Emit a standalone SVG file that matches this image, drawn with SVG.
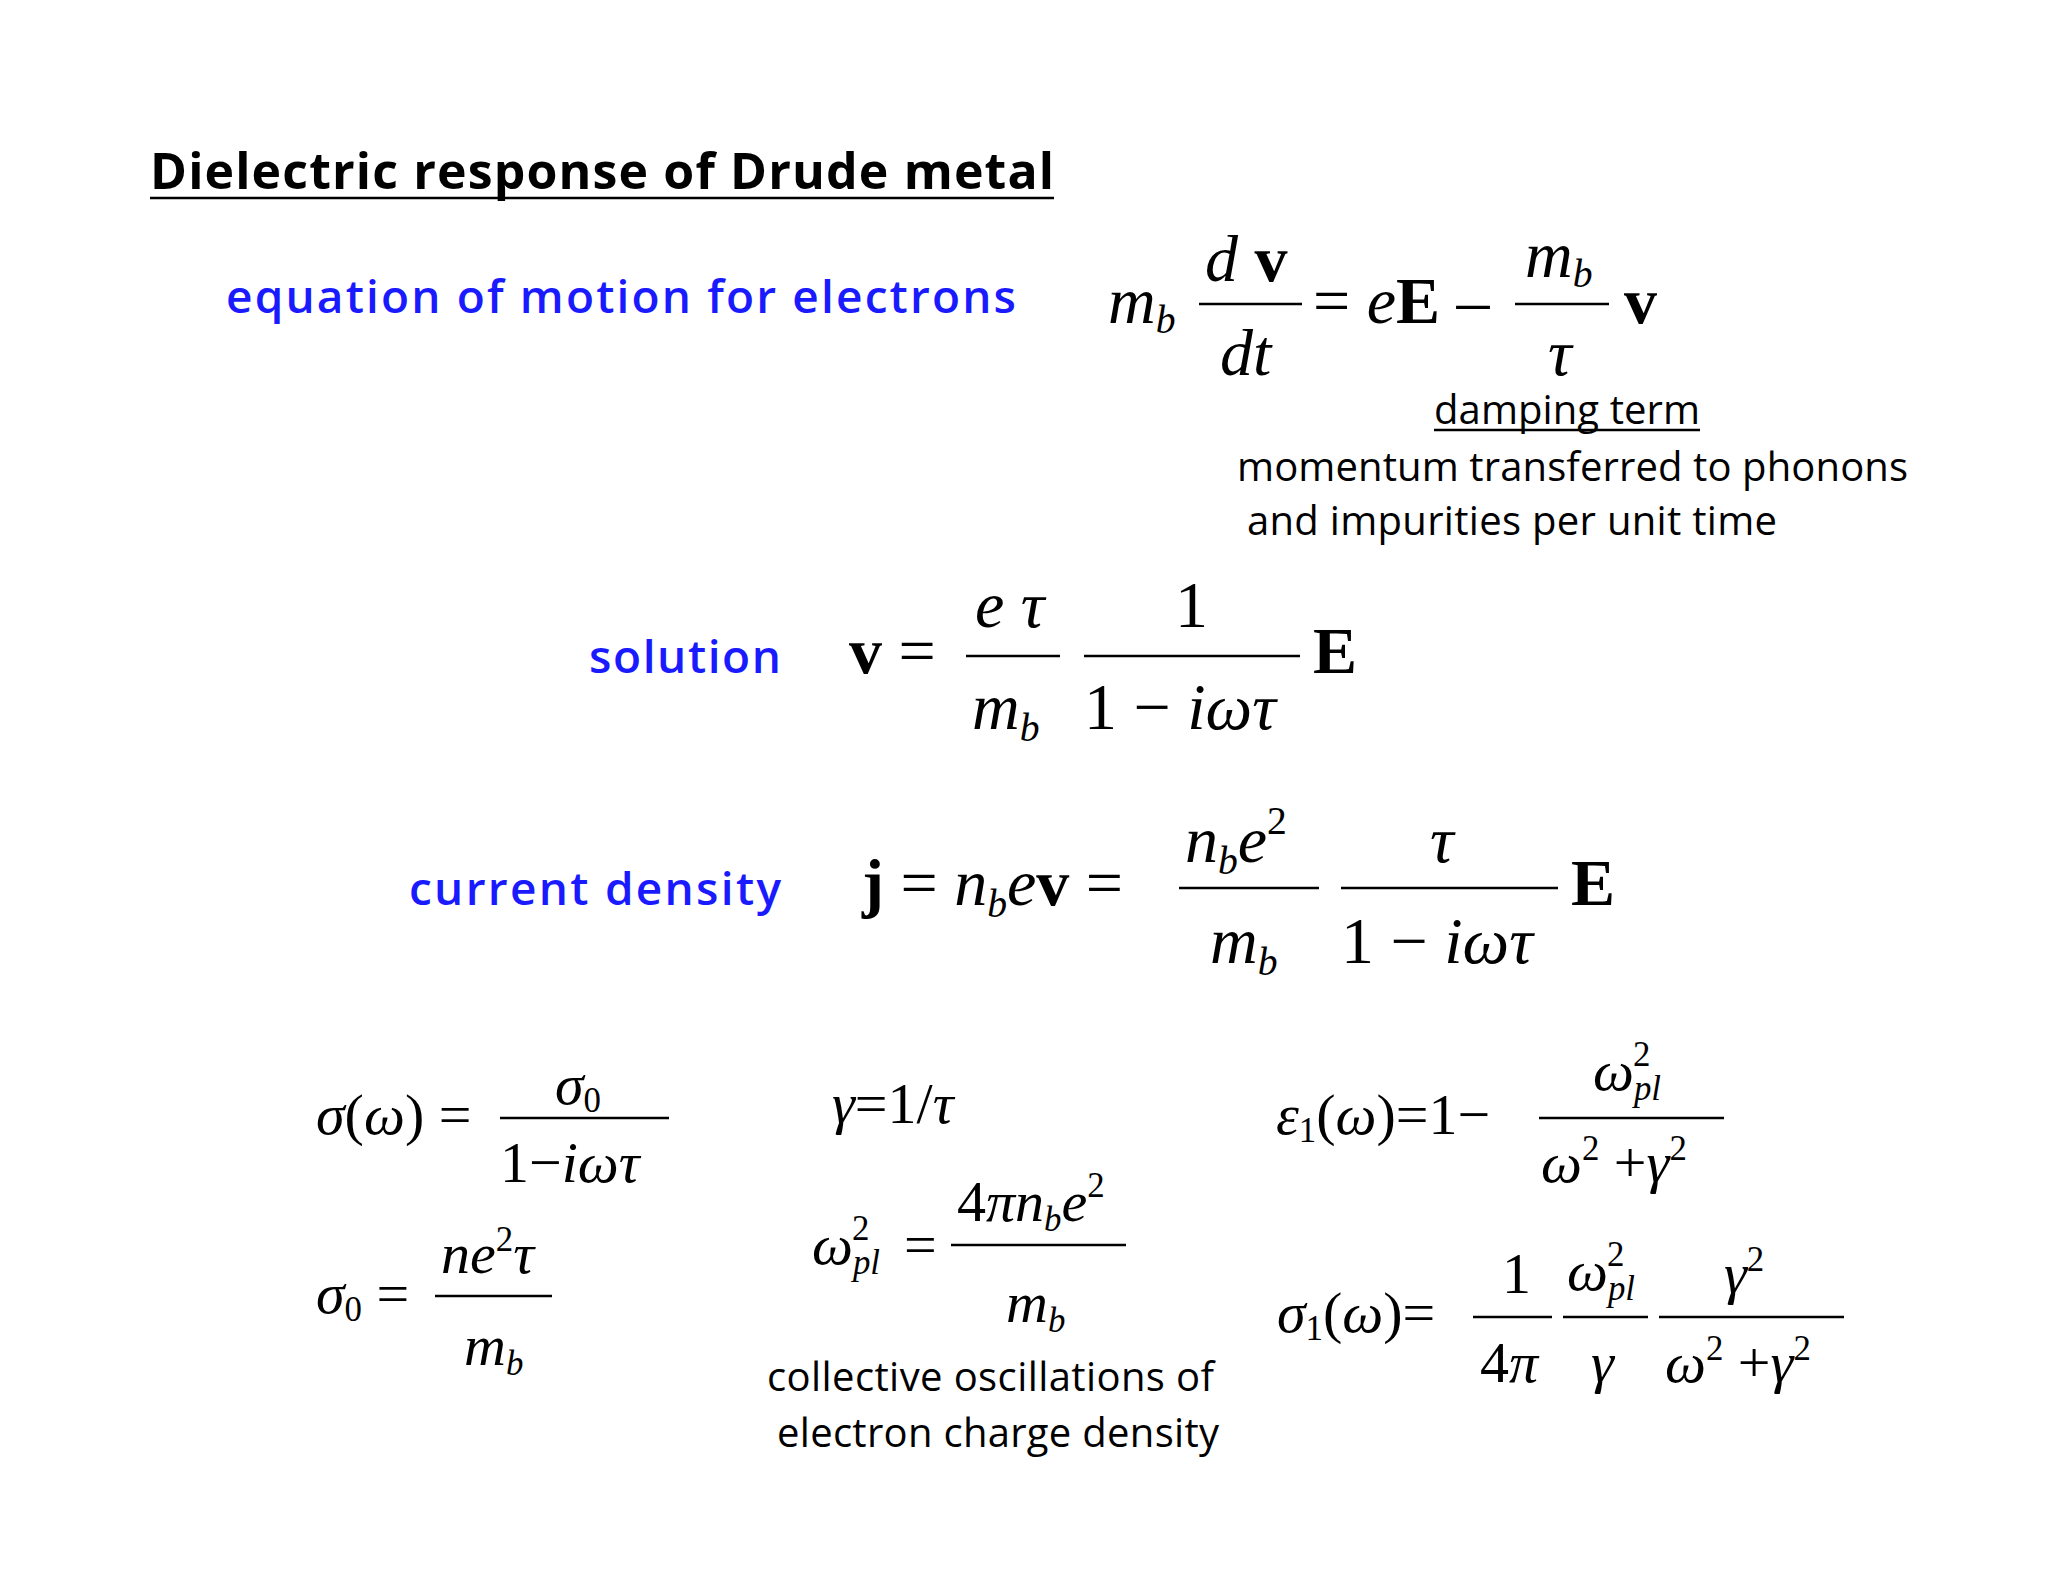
<svg xmlns="http://www.w3.org/2000/svg" width="2048" height="1582" viewBox="0 0 2048 1582">
<style>
.t{font-family:"Open Sans","Liberation Sans",sans-serif;fill:#000}
.b{font-family:"Open Sans","Liberation Sans",sans-serif;fill:#1a1aff;font-size:46px;font-weight:600}
.m{font-family:"Liberation Serif",serif;font-style:italic;font-size:66px;fill:#000}
.s{font-family:"Liberation Serif",serif;font-style:italic;font-size:58px;fill:#000}
.r{font-style:normal}
.bd{font-style:normal;font-weight:bold}
.sub{font-size:0.6em}
line{stroke:#000;stroke-width:2.5}
</style>
<rect width="2048" height="1582" fill="#fff"/>
<g id="title"><text class="t" x="150" y="189" font-size="50" font-weight="bold" textLength="904">Dielectric  response of Drude metal</text><line x1="150" y1="198" x2="1054" y2="198" stroke-width="3"/></g>
<g id="eq1">
<text class="b" x="226" y="313" textLength="790">equation of motion for electrons</text>
<text class="m" x="1108" y="323">m<tspan class="sub" dy="10">b</tspan></text>
<text class="m" x="1205" y="281">d <tspan class="bd">v</tspan></text>
<line x1="1199" y1="304" x2="1302" y2="304"/>
<text class="m" x="1220" y="375">dt</text>
<text class="m" x="1313" y="323"><tspan class="r">=</tspan> e<tspan class="bd">E</tspan> <tspan class="r">–</tspan></text>
<text class="m" x="1525" y="277">m<tspan class="sub" dy="10">b</tspan></text>
<line x1="1515" y1="304" x2="1609" y2="304"/>
<text class="m" x="1548" y="375">τ</text>
<text class="m" x="1624" y="323"><tspan class="bd">v</tspan></text>
<text class="t" x="1434" y="424" font-size="40" textLength="266">damping term</text><line x1="1434" y1="430" x2="1700" y2="430" stroke-width="2"/>
<text class="t" x="1237" y="481" font-size="40" textLength="671">momentum transferred to phonons</text>
<text class="t" x="1247" y="535" font-size="40" textLength="530">and impurities per unit time</text>
</g>
<g id="eq2">
<text class="b" x="589" y="673" textLength="192">solution</text>
<text class="m" x="849" y="673"><tspan class="bd">v</tspan> <tspan class="r">=</tspan></text>
<text class="m" x="975" y="627">e τ</text>
<line x1="966" y1="656" x2="1060" y2="656"/>
<text class="m" x="972" y="729">m<tspan class="sub" dy="12">b</tspan></text>
<text class="m r" x="1175" y="627">1</text>
<line x1="1084" y1="656" x2="1300" y2="656"/>
<text class="m" x="1084" y="729"><tspan class="r">1 − </tspan>iωτ</text>
<text class="m" x="1313" y="673"><tspan class="bd">E</tspan></text>
</g>
<g id="eq3">
<text class="b" x="409" y="905" textLength="372">current density</text>
<text class="m" x="862" y="905"><tspan class="bd">j</tspan> <tspan class="r">=</tspan> n<tspan class="sub" dy="12">b</tspan><tspan dy="-12">e</tspan><tspan class="bd">v</tspan> <tspan class="r">=</tspan></text>
<text class="m" x="1185" y="862">n<tspan class="sub" dy="12">b</tspan><tspan dy="-12">e</tspan><tspan class="sub r" dy="-28">2</tspan></text>
<line x1="1179" y1="888" x2="1319" y2="888"/>
<text class="m" x="1210" y="963">m<tspan class="sub" dy="12">b</tspan></text>
<text class="m" x="1430" y="862">τ</text>
<line x1="1341" y1="888" x2="1558" y2="888"/>
<text class="m" x="1341" y="963"><tspan class="r">1 − </tspan>iωτ</text>
<text class="m" x="1571" y="905"><tspan class="bd">E</tspan></text>
</g>
<g id="sigma">
<text class="s" x="316" y="1134">σ<tspan class="r">(</tspan>ω<tspan class="r">) =</tspan></text>
<text class="s" x="555" y="1104">σ<tspan class="sub r" dy="8">0</tspan></text>
<line x1="500" y1="1118" x2="669" y2="1118"/>
<text class="s" x="500" y="1182"><tspan class="r">1−</tspan>iωτ</text>
<text class="s" x="316" y="1313">σ<tspan class="sub r" dy="8">0</tspan><tspan class="r" dy="-8"> =</tspan></text>
<text class="s" x="441" y="1273">ne<tspan class="sub r" dy="-22">2</tspan><tspan dy="22">τ</tspan></text>
<line x1="435" y1="1296" x2="552" y2="1296"/>
<text class="s" x="464" y="1365">m<tspan class="sub" dy="10">b</tspan></text>
</g>
<g id="plasma">
<text class="s" x="832" y="1123">γ<tspan class="r">=1/</tspan>τ</text>
<text class="s" x="812" y="1264">ω<tspan class="sub" dy="10">pl</tspan><tspan class="sub r" dx="-28" dy="-34">2</tspan><tspan class="r" dx="20" dy="24"> =</tspan></text>
<text class="s" x="957" y="1221"><tspan class="r">4</tspan>πn<tspan class="sub" dy="10">b</tspan><tspan dy="-10">e</tspan><tspan class="sub r" dy="-24">2</tspan></text>
<line x1="951" y1="1245" x2="1126" y2="1245"/>
<text class="s" x="1006" y="1322">m<tspan class="sub" dy="10">b</tspan></text>
<text class="t" x="767" y="1391" font-size="40" textLength="447">collective oscillations of</text>
<text class="t" x="777" y="1447" font-size="40" textLength="442">electron charge density</text>
</g>
<g id="eps">
<text class="s" x="1276" y="1134">ε<tspan class="sub r" dy="8">1</tspan><tspan class="r" dy="-8">(</tspan>ω<tspan class="r">)=1−</tspan></text>
<text class="s" x="1593" y="1090">ω<tspan class="sub" dy="10">pl</tspan><tspan class="sub r" dx="-28" dy="-34">2</tspan></text>
<line x1="1539" y1="1118" x2="1724" y2="1118"/>
<text class="s" x="1541" y="1182">ω<tspan class="sub r" dy="-22">2</tspan><tspan class="r" dy="22"> +</tspan>γ<tspan class="sub r" dy="-22">2</tspan></text>
<text class="s" x="1277" y="1332">σ<tspan class="sub r" dy="8">1</tspan><tspan class="r" dy="-8">(</tspan>ω<tspan class="r">)=</tspan></text>
<text class="s r" x="1502" y="1293">1</text>
<line x1="1473" y1="1317" x2="1552" y2="1317"/>
<text class="s" x="1480" y="1382"><tspan class="r">4</tspan>π</text>
<text class="s" x="1567" y="1290">ω<tspan class="sub" dy="10">pl</tspan><tspan class="sub r" dx="-28" dy="-34">2</tspan></text>
<line x1="1563" y1="1317" x2="1648" y2="1317"/>
<text class="s" x="1591" y="1382">γ</text>
<text class="s" x="1724" y="1293">γ<tspan class="sub r" dy="-22">2</tspan></text>
<line x1="1659" y1="1317" x2="1844" y2="1317"/>
<text class="s" x="1665" y="1382">ω<tspan class="sub r" dy="-22">2</tspan><tspan class="r" dy="22"> +</tspan>γ<tspan class="sub r" dy="-22">2</tspan></text>
</g>
</svg>
